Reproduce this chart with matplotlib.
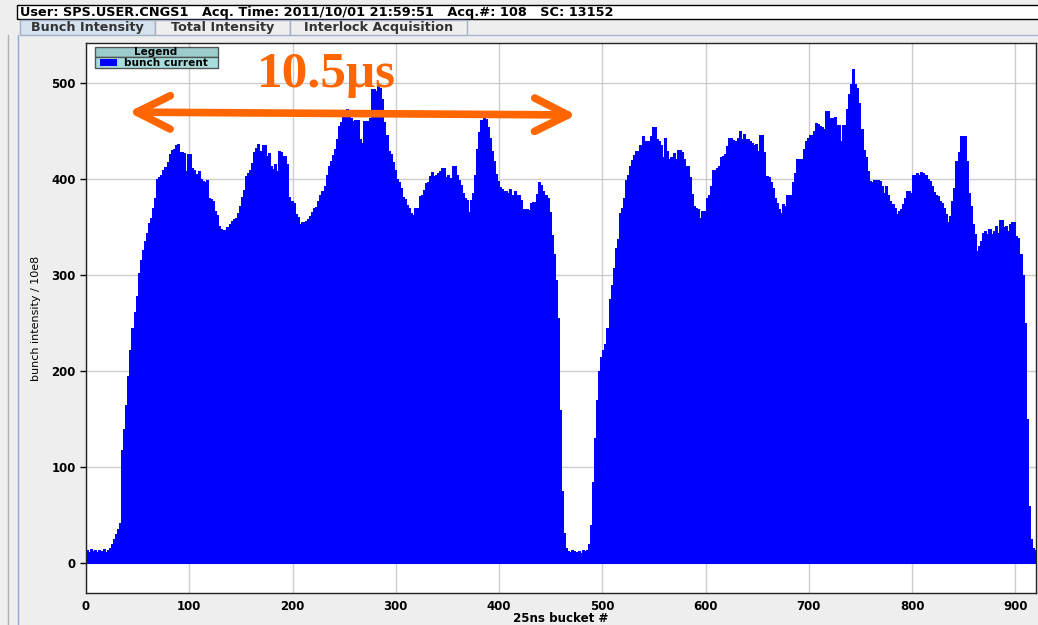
import matplotlib.pyplot as plt
import matplotlib.patches as mpatches
import numpy as np

W, H = 1038, 625

# bunch intensity (1e8 ppb), one value per 2 buckets of 25 ns
bucket_step = 2
intensity = [
    14, 12, 15, 13, 14, 12, 14, 13, 15, 12, 14, 16, 20, 25, 30, 36, 42, 118, 140, 165,
    195, 222, 245, 262, 278, 302, 316, 326, 336, 344, 354, 360, 370, 380, 400, 402, 404, 410, 413, 418,
    426, 431, 432, 436, 437, 428, 428, 427, 409, 426, 426, 412, 410, 406, 409, 400, 398, 397, 399, 381,
    379, 377, 367, 363, 351, 348, 347, 347, 350, 353, 357, 359, 360, 365, 372, 382, 389, 403, 407, 410,
    417, 428, 433, 437, 430, 436, 436, 424, 427, 414, 411, 416, 409, 429, 428, 424, 424, 416, 382, 377,
    375, 364, 361, 353, 355, 356, 357, 359, 362, 366, 370, 371, 377, 384, 388, 393, 405, 414, 419, 425,
    432, 442, 456, 460, 468, 472, 473, 466, 464, 461, 462, 462, 442, 438, 461, 461, 461, 464, 494, 494,
    492, 499, 495, 484, 460, 446, 430, 426, 418, 410, 400, 397, 391, 382, 379, 373, 370, 365, 363, 370,
    370, 383, 384, 389, 396, 397, 403, 408, 403, 404, 407, 409, 412, 412, 402, 405, 401, 414, 414, 405,
    399, 394, 386, 381, 378, 366, 378, 386, 405, 432, 449, 462, 464, 463, 455, 443, 430, 419, 406, 398,
    392, 390, 388, 388, 386, 390, 384, 388, 384, 384, 378, 369, 369, 369, 368, 375, 376, 376, 385, 397,
    394, 388, 384, 380, 366, 342, 322, 295, 255, 160, 75, 32, 16, 13, 12, 14, 13, 12, 13, 11,
    14, 13, 14, 20, 40, 85, 130, 170, 200, 215, 222, 228, 245, 275, 290, 308, 328, 338, 365, 370,
    381, 399, 405, 414, 420, 425, 430, 430, 436, 445, 440, 440, 440, 445, 455, 455, 442, 440, 436, 423,
    443, 430, 421, 423, 427, 421, 431, 431, 428, 421, 414, 414, 402, 385, 372, 370, 369, 360, 367, 367,
    380, 384, 393, 410, 410, 412, 414, 423, 424, 426, 435, 443, 443, 441, 440, 443, 450, 442, 447, 442,
    442, 440, 438, 436, 437, 430, 446, 446, 428, 403, 402, 397, 391, 381, 375, 369, 365, 374, 372, 384,
    384, 384, 397, 407, 421, 421, 421, 432, 440, 443, 446, 446, 450, 459, 458, 456, 454, 452, 471, 471,
    464, 464, 465, 457, 457, 440, 457, 457, 473, 489, 499, 515, 499, 495, 480, 452, 431, 423, 409, 398,
    397, 399, 399, 399, 398, 393, 386, 393, 384, 377, 374, 370, 364, 367, 369, 374, 381, 388, 388, 386,
    405, 405, 407, 405, 408, 407, 405, 400, 398, 393, 387, 384, 383, 377, 375, 370, 364, 355, 362, 377,
    391, 419, 428, 445, 445, 445, 419, 386, 372, 353, 343, 325, 331, 336, 344, 346, 343, 348, 343, 346,
    351, 344, 358, 358, 350, 351, 346, 353, 355, 356, 341, 339, 322, 300, 250, 150, 60, 25, 16, 14,
]
buckets = np.arange(len(intensity)) * bucket_step

x_ticks = [0, 100, 200, 300, 400, 500, 600, 700, 800, 900]
y_ticks = [0, 100, 200, 300, 400, 500]
header = "User: SPS.USER.CNGS1   Acq. Time: 2011/10/01 21:59:51   Acq.#: 108   SC: 13152"
tabs = ["Bunch Intensity", "Total Intensity", "Interlock Acquisition"]
span_label = "10.5\u03bcs"

def fx(x):
    return x / W

def fy(y):
    return 1 - y / H

def box(x0, y0, x1, y1, **kw):
    r = mpatches.Rectangle((fx(x0), fy(y1)), (x1 - x0) / W, (y1 - y0) / H,
                           transform=fig.transFigure, **kw)
    fig.add_artist(r)
    return r

fig = plt.figure(figsize=(W / 100, H / 100), dpi=100, facecolor="#eeeeee")

# window chrome: header line and tabs
box(17, 5, 1040, 19, facecolor="white", edgecolor="black", lw=1)
fig.text(fx(20), fy(12.5), header, fontsize=9.3, fontweight="bold", va="center", ha="left")
tab_x = [(20, 155), (155, 290), (290, 467)]
for (x0, x1), name in zip(tab_x, tabs):
    sel = name == tabs[0]
    box(x0, 20, x1, 35, facecolor="#d6e2ee" if sel else "#eeeeee",
        edgecolor="#9fb0c8", lw=1)
    fig.text(fx((x0 + x1) / 2), fy(27.5), name, fontsize=9.2, fontweight="bold",
             color="#333333", ha="center", va="center")
fig.add_artist(plt.Line2D([fx(467), fx(1038)], [fy(35), fy(35)], color="#a8b8d0", lw=1,
                          transform=fig.transFigure))
fig.add_artist(plt.Line2D([fx(8), fx(8)], [fy(35), fy(625)], color="#b0b0b0", lw=1,
                          transform=fig.transFigure))
fig.add_artist(plt.Line2D([fx(18), fx(18)], [fy(35), fy(625)], color="#8aa8d8", lw=1,
                          transform=fig.transFigure))

ax = fig.add_axes([fx(86), fy(593), (1036 - 86) / W, (593 - 43) / H])
ax.set_facecolor("white")
ax.bar(buckets, intensity, width=bucket_step, align="edge", color="#0000ff",
       edgecolor="#0000ff", linewidth=0.5, antialiased=False, zorder=2)

ax.set_xlim(0, 920)
ax.set_ylim(-31, 542)
ax.set_xticks(x_ticks)
ax.set_yticks(y_ticks)
ax.grid(color="#cccccc", lw=1)
ax.set_axisbelow(True)
for s in ax.spines.values():
    s.set_color("#222222")
    s.set_linewidth(1)
ax.tick_params(axis="y", length=4.5, width=1, pad=3, labelsize=8.5)
ax.tick_params(axis="x", length=0, pad=5, labelsize=8.5)
for lab in ax.get_xticklabels() + ax.get_yticklabels():
    lab.set_fontweight("bold")
fig.text(fx(561), fy(622), "25ns bucket #", fontsize=8.6, fontweight="bold",
         ha="center", va="baseline")
ax.set_ylabel("bunch intensity / 10e8", fontsize=8, labelpad=7)

# legend box
box(95, 47, 218, 57, facecolor="#9ccccc", edgecolor="#555555", lw=1, zorder=5)
box(95, 57, 218, 68, facecolor="#a6dede", edgecolor="#555555", lw=1, zorder=5)
box(100, 59, 117, 65.5, facecolor="#0000ff", edgecolor="none", zorder=6)
fig.text(fx(156), fy(52), "Legend", fontsize=7.5, fontweight="bold", ha="center", va="center", zorder=7)
fig.text(fx(124), fy(62.5), "bunch current", fontsize=7.6, fontweight="bold", ha="left", va="center", zorder=7)

# 10.5 us span annotation
arrow = mpatches.FancyArrowPatch((475, 467), (41, 470),
                                 arrowstyle="<->,head_length=1.2,head_width=0.6",
                                 mutation_scale=20, color="#ff6600", lw=5.5,
                                 shrinkA=0, shrinkB=0, capstyle="round", joinstyle="round",
                                 zorder=10, clip_on=False)
ax.add_patch(arrow)
ax.text(233, 496, span_label, color="#ff6600", fontsize=37, fontweight="bold",
        family="Liberation Serif", ha="center", va="baseline", zorder=10)

fig.savefig("out.png", dpi=100, facecolor=fig.get_facecolor())
